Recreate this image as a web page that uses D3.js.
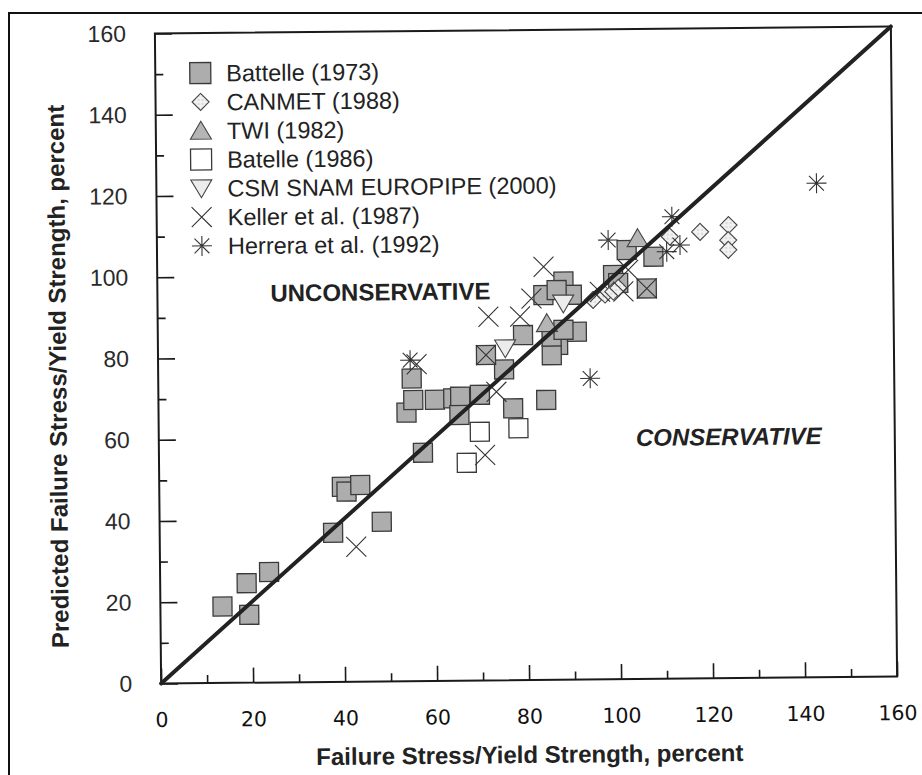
<!DOCTYPE html>
<html>
<head>
<meta charset="utf-8">
<script src="https://cdn.jsdelivr.net/npm/d3@7"></script>
<style>
  body { margin: 0; background: #fff; }
  svg { display: block; }
</style>
</head>
<body>
<svg id="chart" width="922" height="775"></svg>
<script>
// Failure stress / yield strength (x) vs predicted failure stress / yield strength (y), percent
const battelle1973 = [
  [13.5, 18.8], [18.8, 24.5], [19.3, 16.7], [23.7, 27.2], [37.7, 36.7],
  [39.7, 48.0], [40.7, 46.8], [43.7, 48.4], [48.3, 39.3], [57.4, 56.2],
  [53.9, 66.1], [55.4, 69.2], [55.1, 74.5], [60.1, 69.2], [64.1, 69.5],
  [65.6, 69.9], [69.9, 70.3], [65.4, 65.4], [77.1, 66.9], [84.3, 68.9],
  [75.2, 76.5], [71.3, 80.1], [79.4, 84.9], [87.0, 82.4], [85.6, 79.9],
  [91.1, 85.6], [88.3, 98.0], [83.9, 94.7], [90.1, 94.7], [86.8, 95.9],
  [85.6, 84.5], [88.2, 86.1], [102.1, 105.6], [107.9, 103.9], [99.1, 99.5],
  [100.2, 97.5], [106.4, 96.1]
];
const canmet1988 = [
  [94.7, 93.4], [97.3, 94.7], [99.1, 95.4], [100.2, 96.3], [111.5, 108.8],
  [118.1, 109.9], [124.3, 111.5], [124.2, 107.8], [124.2, 105.4]
];
const twi1982 = [[104.5, 108.5], [84.6, 87.8]];
const batelle1986 = [[69.8, 61.2], [78.2, 62.0], [66.9, 53.6]];
const csm2000 = [[75.5, 81.7], [88.2, 92.6]];
const keller1987 = [
  [42.7, 33.2], [70.9, 55.5], [73.5, 71.0], [56.2, 78.0], [71.3, 80.1],
  [71.9, 89.5], [78.8, 89.5], [81.3, 93.9], [84.0, 101.7], [96.2, 95.4],
  [101.3, 95.4], [102.4, 100.7], [106.4, 96.1]
];
const herrera1992 = [
  [54.8, 79.0], [93.9, 74.1], [98.1, 108.1], [112.0, 113.7], [113.7, 106.7],
  [110.8, 105.1], [143.5, 121.6]
];

const majorTicks = [0, 20, 40, 60, 80, 100, 120, 140, 160];
const minorTicks = [10, 30, 50, 70, 90, 110, 130, 150];
const xTitle = "Failure Stress/Yield Strength, percent";
const yTitle = "Predicted Failure Stress/Yield Strength, percent";
const regionLabels = ["UNCONSERVATIVE", "CONSERVATIVE"];

// ---------------------------------------------------------------
const W = 922, H = 775;
const svg = d3.select("#chart");
svg.append("rect").attr("width", W).attr("height", H).attr("fill", "#fff");

// page frame
svg.append("rect")
  .attr("x", 9).attr("y", 13).attr("width", 940).attr("height", 800)
  .attr("fill", "none").attr("stroke", "#111").attr("stroke-width", 2);

const box = { left: 158, right: 894, top: 30, bottom: 680 };
const g = svg.append("g").attr("transform", "rotate(-0.55,526,355)");

const x = d3.scaleLinear().domain([0, 160]).range([box.left, box.right]);
const y = d3.scaleLinear().domain([0, 160]).range([box.bottom, box.top]);

const ink = "#1a1a1a";

// axes: inward ticks
const xMajor = g.append("g").attr("transform", `translate(0,${box.bottom})`)
  .call(d3.axisBottom(x).tickValues(majorTicks).tickSize(-15).tickPadding(29).tickFormat(d3.format("d")));
const xMinor = g.append("g").attr("transform", `translate(0,${box.bottom})`)
  .call(d3.axisBottom(x).tickValues(minorTicks).tickSize(-8).tickFormat(""));
const yMajor = g.append("g").attr("transform", `translate(${box.left},0)`)
  .call(d3.axisLeft(y).tickValues(majorTicks).tickSize(-17).tickPadding(29).tickFormat(d3.format("d")));
const yMinor = g.append("g").attr("transform", `translate(${box.left},0)`)
  .call(d3.axisLeft(y).tickValues(minorTicks).tickSize(-8).tickFormat(""));

[xMajor, xMinor, yMajor, yMinor].forEach(a => {
  a.select(".domain").remove();
  a.selectAll(".tick line").attr("stroke", ink).attr("stroke-width", 1.6);
});
xMajor.selectAll(".tick text")
  .attr("font-family", "'DejaVu Sans', sans-serif").attr("font-size", 20.5)
  .attr("fill", "#111");
yMajor.selectAll(".tick text")
  .attr("font-family", "'Liberation Sans', Arial, sans-serif").attr("font-size", 23)
  .attr("fill", "#2a2a2a");

// plot frame
g.append("rect")
  .attr("x", box.left).attr("y", box.top)
  .attr("width", box.right - box.left).attr("height", box.bottom - box.top)
  .attr("fill", "none").attr("stroke", ink).attr("stroke-width", 2);

// marker shapes
const shapes = {
  square: s => `M${-s/2},${-s/2}H${s/2}V${s/2}H${-s/2}Z`,
  diamond: s => `M0,${-s/2}L${s/2},0L0,${s/2}L${-s/2},0Z`,
  triUp: s => `M0,${-s*0.45}L${s/2},${s*0.4}L${-s/2},${s*0.4}Z`,
  triDown: s => `M${-s/2},${-s*0.4}L${s/2},${-s*0.4}L0,${s*0.45}Z`,
  cross: s => `M${-s/2},${-s/2}L${s/2},${s/2}M${s/2},${-s/2}L${-s/2},${s/2}`,
  star: s => {
    const r = s / 2, d = r * 0.74;
    return `M0,${-r}V${r}M${-r},0H${r}M${-d},${-d}L${d},${d}M${d},${-d}L${-d},${d}`;
  }
};

// dotted fill for the CANMET diamonds
const defs = svg.append("defs");
const pat = defs.append("pattern").attr("id", "dots")
  .attr("width", 4).attr("height", 4).attr("patternUnits", "userSpaceOnUse");
pat.append("rect").attr("width", 4).attr("height", 4).attr("fill", "#f2f2f2");
pat.append("circle").attr("cx", 2).attr("cy", 2).attr("r", 0.8).attr("fill", "#bdbdbd");

// series in legend order
const series = [
  { name: "Battelle (1973)", data: battelle1973, shape: "square", size: 19, fill: "#adadad", stroke: "#3a3a3a", sw: 1.3 },
  { name: "CANMET (1988)", data: canmet1988, shape: "diamond", size: 17, fill: "url(#dots)", stroke: "#444", sw: 1.1 },
  { name: "TWI (1982)", data: twi1982, shape: "triUp", size: 21, fill: "#b5b5b5", stroke: "#444", sw: 1.1 },
  { name: "Batelle (1986)", data: batelle1986, shape: "square", size: 19, fill: "#fff", stroke: "#3a3a3a", sw: 1.3 },
  { name: "CSM SNAM EUROPIPE (2000)", data: csm2000, shape: "triDown", size: 21, fill: "#ececec", stroke: "#444", sw: 1.1 },
  { name: "Keller et al. (1987)", data: keller1987, shape: "cross", size: 20, fill: "none", stroke: "#333", sw: 1.1 },
  { name: "Herrera et al. (1992)", data: herrera1992, shape: "star", size: 20, fill: "none", stroke: "#333", sw: 1.1 }
];
// drawing order: filled squares underneath, line marks on top
const drawOrder = [0, 3, 1, 2, 4, 5, 6];

drawOrder.forEach(i => {
  const sr = series[i];
  g.append("g").selectAll("path").data(sr.data).join("path")
    .attr("d", shapes[sr.shape](sr.size))
    .attr("transform", d => `translate(${x(d[0])},${y(d[1])})`)
    .attr("fill", sr.fill).attr("stroke", sr.stroke).attr("stroke-width", sr.sw);
});

// line of perfect agreement
g.append("line")
  .attr("x1", x(0)).attr("y1", y(0)).attr("x2", x(160)).attr("y2", y(160))
  .attr("stroke", "#222").attr("stroke-width", 4).attr("stroke-linecap", "round");

// legend
const legend = g.append("g").attr("transform", "translate(203,70)");
const rowGap = 28.8;
series.forEach((sr, i) => {
  const row = legend.append("g").attr("transform", `translate(0,${i * rowGap})`);
  row.append("path")
    .attr("d", shapes[sr.shape](sr.shape === "square" ? 21 : sr.size))
    .attr("fill", sr.fill).attr("stroke", sr.stroke).attr("stroke-width", sr.sw);
  row.append("text")
    .attr("x", 26).attr("dy", "0.36em")
    .attr("font-family", "'Liberation Sans', Arial, sans-serif")
    .attr("font-size", 23.5).attr("fill", "#222")
    .text(sr.name);
});

// region labels
g.append("text")
  .attr("x", 381).attr("y", 299)
  .attr("text-anchor", "middle")
  .attr("font-family", "'Liberation Sans', Arial, sans-serif")
  .attr("font-weight", "bold").attr("font-size", 24).attr("fill", "#222")
  .text(regionLabels[0]);
g.append("text")
  .attr("x", 728).attr("y", 447)
  .attr("text-anchor", "middle")
  .attr("font-family", "'Liberation Sans', Arial, sans-serif")
  .attr("font-weight", "bold").attr("font-style", "italic")
  .attr("font-size", 24).attr("fill", "#222")
  .text(regionLabels[1]);

// axis titles
g.append("text")
  .attr("x", 526).attr("y", 763)
  .attr("text-anchor", "middle")
  .attr("font-family", "'Liberation Sans', Arial, sans-serif")
  .attr("font-weight", "bold").attr("font-size", 24).attr("fill", "#222")
  .text(xTitle);
g.append("text")
  .attr("transform", "translate(66,372) rotate(-90)")
  .attr("text-anchor", "middle")
  .attr("font-family", "'Liberation Sans', Arial, sans-serif")
  .attr("font-weight", "bold").attr("font-size", 24).attr("fill", "#222")
  .text(yTitle);
</script>
</body>
</html>
